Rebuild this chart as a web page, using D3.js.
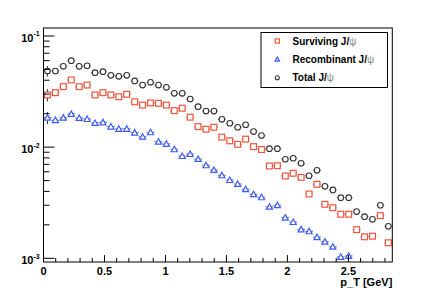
<!DOCTYPE html>
<html><head><meta charset="utf-8">
<script src="https://cdn.jsdelivr.net/npm/d3@7"></script>
<style>body{margin:0;background:#fff}svg{display:block}</style>
</head><body>
<script>
// ---- data ----
const pT = [0.0325,0.0975,0.1625,0.2275,0.2925,0.3575,0.4225,0.4875,0.5525,0.6175,0.6825,0.7475,0.8125,0.8775,0.9425,1.0075,1.0725,1.1375,1.2025,1.2675,1.3325,1.3975,1.4625,1.5275,1.5925,1.6575,1.7225,1.7875,1.8525,1.9175,1.9825,2.0475,2.1125,2.1775,2.2425,2.3075,2.3725,2.4375,2.5025,2.5675,2.6325,2.6975,2.7625,2.8275];
const binWidth = 0.065;
const surviving = [0.0295,0.0309,0.0350,0.0402,0.0350,0.0362,0.0295,0.0309,0.0295,0.0284,0.0299,0.0256,0.0239,0.0250,0.0248,0.0239,0.0213,0.0224,0.0186,0.0153,0.0145,0.0151,0.0123,0.0114,0.0106,0.0118,0.0101,0.00951,0.00677,0.00681,0.00550,0.00582,0.00535,0.00379,0.00463,0.00306,0.00285,0.00249,0.00249,0.00181,0.00156,0.00158,0.00242,0.00138];
const recombinant = [0.0184,0.0175,0.0184,0.0199,0.0183,0.0179,0.0165,0.0167,0.0153,0.0146,0.0146,0.0135,0.0124,0.0136,0.0112,0.0107,0.00957,0.00832,0.00867,0.00782,0.00687,0.00623,0.00558,0.00506,0.00466,0.00418,0.00377,0.00354,0.00291,0.00300,0.00232,0.00212,0.00182,0.00175,0.00155,0.00141,0.00127,0.00103,0.00105,null,null,null,null,null];
const total = [0.0484,0.0484,0.0533,0.0600,0.0533,0.0540,0.0468,0.0477,0.0443,0.0434,0.0443,0.0394,0.0362,0.0383,0.0362,0.0345,0.0305,0.0305,0.0271,0.0231,0.0211,0.0211,0.0178,0.0164,0.0151,0.0159,0.0138,0.0127,0.00968,0.00968,0.00778,0.00794,0.00716,0.00553,0.00619,0.00444,0.00412,0.00351,0.00351,0.00263,0.00237,0.00224,0.00300,0.00194];
// vertical errors visible only on the first bin
const survivingErr = [0.0037];
const recombinantErr = [0.0023];
const totalErr = [0.0052];
const xTicksMajor = [0, 0.5, 1, 1.5, 2, 2.5];
const xTickLabels = ["0", "0.5", "1", "1.5", "2", "2.5"];
const yTicksMajor = [0.001, 0.01, 0.1];
const yTickExp = ["-3", "-2", "-1"];
const legendLabels = ["Surviving J/", "Recombinant J/", "Total J/"];
const xTitle = "p_T [GeV]";

// ---- layout ----
const W = 436, H = 292;
const L = 43.5, R = 392.3, T = 28, B = 262;
const svg = d3.select("body").append("svg").attr("width", W).attr("height", H);
const x = d3.scaleLinear().domain([0, 2.86]).range([L, R]);
const y = d3.scaleLog().domain([0.000926, 0.118]).range([B, T]);
const font = "'Liberation Sans', Arial, Helvetica, sans-serif";

const colors = {surv: "#f0543c", rec: "#3a5cff", tot: "#333333"};

const plot = svg.append("g");
plot.append("clipPath").attr("id", "clip").append("rect")
  .attr("x", L).attr("y", T).attr("width", R - L).attr("height", B - T);
const g = plot.append("g").attr("clip-path", "url(#clip)");

const series = [
  {key: "surv", vals: surviving, err: survivingErr, shape: "square"},
  {key: "rec", vals: recombinant, err: recombinantErr, shape: "triangle"},
  {key: "tot", vals: total, err: totalErr, shape: "circle"}
];

function drawMarker(sel, shape, cx, cy, col, s) {
  if (shape === "square") {
    sel.append("rect").attr("x", cx - s).attr("y", cy - s).attr("width", 2 * s).attr("height", 2 * s)
      .attr("fill", "#fff").attr("stroke", col).attr("stroke-width", 1.2);
  } else if (shape === "triangle") {
    sel.append("path").attr("d", `M${cx},${cy - s * 1.05}L${cx + s * 1.05},${cy + s * 0.85}L${cx - s * 1.05},${cy + s * 0.85}Z`)
      .attr("fill", "#fff").attr("stroke", col).attr("stroke-width", 1.2);
  } else {
    sel.append("circle").attr("cx", cx).attr("cy", cy).attr("r", s)
      .attr("fill", "#fff").attr("stroke", col).attr("stroke-width", 1.1);
  }
}

series.forEach(s => {
  const col = colors[s.key];
  pT.forEach((p, i) => {
    const v = s.vals[i];
    if (v == null) return;
    const cx = x(p), cy = y(v);
    g.append("line").attr("x1", x(p - binWidth / 2)).attr("x2", x(p + binWidth / 2))
      .attr("y1", cy).attr("y2", cy).attr("stroke", "#777").attr("stroke-width", 1);
    if (s.err[i]) {
      g.append("line").attr("x1", cx).attr("x2", cx)
        .attr("y1", y(v + s.err[i])).attr("y2", y(v - s.err[i]))
        .attr("stroke", "#333").attr("stroke-width", 1);
    }
  });
  pT.forEach((p, i) => {
    const v = s.vals[i];
    if (v == null) return;
    drawMarker(g, s.shape, x(p), y(v), col, s.shape === "circle" ? 2.8 : 2.9);
  });
});

// ---- frame and axes ----
svg.append("rect").attr("x", L).attr("y", T).attr("width", R - L).attr("height", B - T)
  .attr("fill", "none").attr("stroke", "#000").attr("stroke-width", 1);

// x ticks
const xMinor = d3.range(0, 29).map(k => k / 10);
svg.selectAll(".xmin").data(xMinor).enter().append("line")
  .attr("x1", d => x(d)).attr("x2", d => x(d))
  .attr("y1", B).attr("y2", d => B - (xTicksMajor.some(m => Math.abs(m - d) < 1e-9) ? 7 : 4))
  .attr("stroke", "#000").attr("stroke-width", 1);
svg.selectAll(".xlab").data(xTicksMajor).enter().append("text")
  .attr("x", d => x(d)).attr("y", 274.5).attr("text-anchor", "middle")
  .attr("font-family", font).attr("font-weight", "bold").attr("font-size", 11)
  .text((d, i) => xTickLabels[i]);
svg.append("text").attr("x", R).attr("y", 285.5).attr("text-anchor", "end")
  .attr("font-family", font).attr("font-weight", "bold").attr("font-size", 11).text(xTitle);

// y ticks
const yMinor = [];
[0.0001, 0.001, 0.01, 0.1].forEach(d => { for (let k = 1; k <= 9; k++) { const v = d * k; if (v >= 0.000926 && v <= 0.118) yMinor.push(v); } });
svg.selectAll(".ymin").data(yMinor).enter().append("line")
  .attr("x1", L).attr("x2", d => L + (yTicksMajor.some(m => Math.abs(m / d - 1) < 1e-6) ? 11 : 6))
  .attr("y1", d => y(d)).attr("y2", d => y(d))
  .attr("stroke", "#000").attr("stroke-width", 1);
const yl = svg.selectAll(".ylab").data(yTicksMajor).enter().append("text")
  .attr("x", 33.5).attr("y", d => y(d) + 6).attr("text-anchor", "end")
  .attr("font-family", font).attr("font-weight", "bold").attr("font-size", 11);
yl.append("tspan").text("10");
svg.selectAll(".yexp").data(yTicksMajor).enter().append("text")
  .attr("x", 33.5).attr("y", d => y(d) + 0.5).attr("text-anchor", "start")
  .attr("font-family", font).attr("font-weight", "bold").attr("font-size", 7)
  .text((d, i) => yTickExp[i]);

// ---- legend ----
const lg = svg.append("g");
lg.append("rect").attr("x", 261).attr("y", 32.5).attr("width", 126.5).attr("height", 55)
  .attr("fill", "#fff").attr("stroke", "#000").attr("stroke-width", 1);
const rows = [41, 59.3, 77.7];
series.forEach((s, i) => {
  drawMarker(lg, s.shape, 277.3, rows[i], colors[s.key], s.shape === "circle" ? 2 : 2.1);
  const t = lg.append("text").attr("x", 292.5).attr("y", rows[i] + 3.6)
    .attr("font-family", font).attr("font-weight", "bold").attr("font-size", 10);
  t.append("tspan").text(legendLabels[i]);
  t.append("tspan").attr("font-weight", "normal").attr("fill", "#888").text("ψ");
});
</script>
</body></html>
